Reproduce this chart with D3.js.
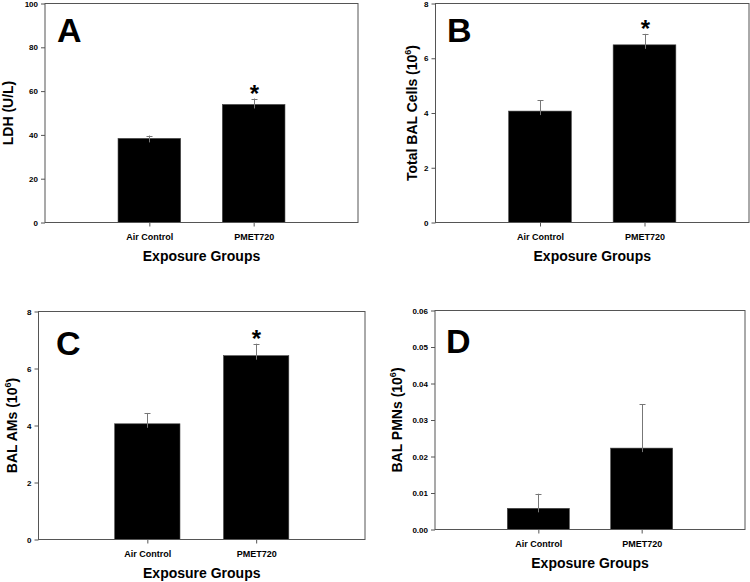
<!DOCTYPE html>
<html>
<head>
<meta charset="utf-8">
<script src="https://cdn.jsdelivr.net/npm/d3@7/dist/d3.min.js"></script>
<style>
  html, body { margin: 0; padding: 0; background: #fff; }
  svg { display: block; }
  text { font-family: "Liberation Sans", Arial, sans-serif; font-weight: bold; fill: #000; }
</style>
</head>
<body>
<svg id="chart" width="750" height="582"></svg>
<script>
// ---------- data ----------
const categories = ["Air Control", "PMET720"];

const ldhMeans = [38.4, 53.9];
const ldhErrors = [1.3, 2.7];

const totalCellMeans = [4.07, 6.49];
const totalCellErrors = [0.39, 0.40];

const amMeans = [4.06, 6.45];
const amErrors = [0.38, 0.42];

const pmnMeans = [0.0058, 0.0223];
const pmnErrors = [0.0040, 0.0120];

const ldhTicks = [0, 20, 40, 60, 80, 100];
const cellTicks = [0, 2, 4, 6, 8];
const pmnTicks = [0, 0.01, 0.02, 0.03, 0.04, 0.05, 0.06];

const ldhSignificant = [false, true];
const totalSignificant = [false, true];
const amSignificant = [false, true];
const pmnSignificant = [false, false];

const xTitle = "Exposure Groups";

// ---------- layout (positions/styles) ----------
const panels = [
  { letter: "A", letterFont: "Liberation Sans", means: ldhMeans, errors: ldhErrors, sig: ldhSignificant,
    ticks: ldhTicks, fmt: d3.format("d"), domain: [0, 100],
    label: ["LDH (U/L)", null, ""],
    box: { left: 45, top: 3.5, right: 358, bottom: 222.5 }, labelX: 13, letterPos: [57, 42] },
  { letter: "B", letterFont: "Liberation Sans", means: totalCellMeans, errors: totalCellErrors, sig: totalSignificant,
    ticks: cellTicks, fmt: d3.format("d"), domain: [0, 8],
    label: ["Total BAL Cells (10", "6", ")"],
    box: { left: 435.5, top: 3.5, right: 749, bottom: 222.5 }, labelX: 417, letterPos: [447, 42] },
  { letter: "C", letterFont: "Open Sans", means: amMeans, errors: amErrors, sig: amSignificant,
    ticks: cellTicks, fmt: d3.format("d"), domain: [0, 8],
    label: ["BAL AMs (10", "6", ")"],
    box: { left: 38.5, top: 311.5, right: 365, bottom: 539.5 }, labelX: 17, letterPos: [56, 355] },
  { letter: "D", letterFont: "Open Sans", means: pmnMeans, errors: pmnErrors, sig: pmnSignificant,
    ticks: pmnTicks, fmt: d3.format(".2f"), domain: [0, 0.06],
    label: ["BAL PMNs (10", "6", ")"],
    box: { left: 435, top: 310.5, right: 745, bottom: 529.5 }, labelX: 402, letterPos: [446, 353] }
];

const axisColor = "#555";
const errColor = "#777";

const svg = d3.select("#chart");

panels.forEach(p => {
  const b = p.box;
  const g = svg.append("g");

  const x = d3.scalePoint().domain(categories).range([b.left, b.right]).padding(1);
  const y = d3.scaleLinear().domain(p.domain).range([b.bottom, b.top]);
  const barW = (b.right - b.left) * 0.2;

  // bars
  g.selectAll("rect.bar").data(categories).join("rect")
    .attr("class", "bar")
    .attr("x", d => x(d) - barW / 2)
    .attr("width", barW)
    .attr("y", (d, i) => y(p.means[i]))
    .attr("height", (d, i) => y(0) - y(p.means[i]))
    .attr("fill", "#000")
    .attr("stroke", "#444")
    .attr("stroke-width", 0.6);

  // error bars (upper)
  categories.forEach((c, i) => {
    const cx = Math.round(x(c)) + 0.5;
    const yTop = y(p.means[i] + p.errors[i]);
    g.append("line")
      .attr("x1", cx).attr("x2", cx)
      .attr("y1", y(p.means[i]) + 4).attr("y2", yTop)
      .attr("stroke", errColor).attr("stroke-width", 1);
    g.append("line")
      .attr("x1", cx - 3).attr("x2", cx + 3)
      .attr("y1", Math.round(yTop) + 0.5).attr("y2", Math.round(yTop) + 0.5)
      .attr("stroke", errColor).attr("stroke-width", 1);
    if (p.sig[i]) {
      g.append("text")
        .attr("x", cx)
        .attr("y", yTop + 3)
        .attr("text-anchor", "middle")
        .attr("font-size", 24)
        .text("*");
    }
  });

  // frame
  g.append("rect")
    .attr("x", b.left).attr("y", b.top)
    .attr("width", b.right - b.left).attr("height", b.bottom - b.top)
    .attr("fill", "none").attr("stroke", axisColor).attr("stroke-width", 1);

  // y axis
  const yAxis = d3.axisLeft(y).tickValues(p.ticks).tickFormat(p.fmt).tickSizeOuter(0).tickSizeInner(4).tickPadding(3);
  const ya = g.append("g").attr("transform", `translate(${b.left},0)`).call(yAxis);
  ya.select(".domain").remove();
  ya.selectAll("line").attr("stroke", axisColor);
  ya.selectAll("text").attr("font-size", 8).attr("font-family", "Liberation Sans").attr("font-weight", "bold");

  // x axis
  const xAxis = d3.axisBottom(x).tickSizeOuter(0).tickSizeInner(4).tickPadding(7);
  const xa = g.append("g").attr("transform", `translate(0,${b.bottom})`).call(xAxis);
  xa.select(".domain").remove();
  xa.selectAll("line").attr("stroke", axisColor);
  xa.selectAll("text").attr("font-size", 9).attr("font-family", "Liberation Sans").attr("font-weight", "bold");

  // x title
  g.append("text")
    .attr("x", (b.left + b.right) / 2)
    .attr("y", b.bottom + 38)
    .attr("text-anchor", "middle")
    .attr("font-size", 14)
    .text(xTitle);

  // y title
  const yt = g.append("text")
    .attr("transform", `translate(${p.labelX},${(b.top + b.bottom) / 2}) rotate(-90)`)
    .attr("text-anchor", "middle")
    .attr("font-size", 14);
  yt.append("tspan").text(p.label[0]);
  if (p.label[1]) {
    yt.append("tspan").attr("font-size", 9).attr("dy", -6).text(p.label[1]);
    yt.append("tspan").attr("dy", 6).text(p.label[2]);
  }

  // panel letter
  g.append("text")
    .attr("x", p.letterPos[0]).attr("y", p.letterPos[1])
    .attr("font-size", 34)
    .attr("font-family", p.letterFont)
    .attr("font-weight", "bold")
    .text(p.letter);
});
</script>
</body>
</html>
